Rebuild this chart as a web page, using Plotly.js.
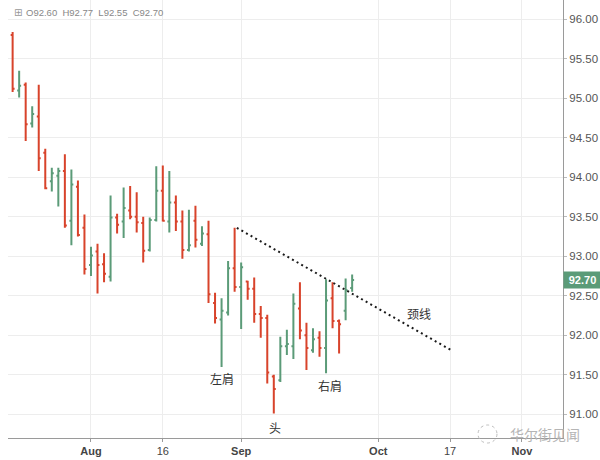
<!DOCTYPE html>
<html>
<head>
<meta charset="utf-8">
<script src="https://cdn.plot.ly/plotly-3.0.1.min.js"></script>
<style>html,body{margin:0;padding:0;background:#fff}#chart{width:600px;height:460px}</style>
</head>
<body>
<div id="chart"></div>
<script>
const dates = [
  '2017-07-14',
  '2017-07-17','2017-07-18','2017-07-19','2017-07-20','2017-07-21',
  '2017-07-24','2017-07-25','2017-07-26','2017-07-27','2017-07-28',
  '2017-07-31','2017-08-01','2017-08-02','2017-08-03','2017-08-04',
  '2017-08-07','2017-08-08','2017-08-09','2017-08-10','2017-08-11',
  '2017-08-14','2017-08-15','2017-08-16','2017-08-17','2017-08-18',
  '2017-08-21','2017-08-22','2017-08-23','2017-08-24','2017-08-25',
  '2017-08-28','2017-08-29','2017-08-30','2017-08-31','2017-09-01',
  '2017-09-04','2017-09-05','2017-09-06','2017-09-07','2017-09-08',
  '2017-09-11','2017-09-12','2017-09-13','2017-09-14','2017-09-15',
  '2017-09-18','2017-09-19','2017-09-20','2017-09-21','2017-09-22',
  '2017-09-25','2017-09-26'
];
const openP = [
  95.80,
  95.10,95.17,94.68,94.77,94.31,
  93.95,94.02,94.08,93.45,93.88,
  93.36,92.89,93.06,92.90,92.74,
  93.49,93.44,93.58,93.50,93.42,
  93.08,93.46,93.83,93.44,93.68,
  93.44,93.08,93.45,93.16,93.28,
  92.41,92.20,92.29,92.85,92.61,
  92.68,92.59,92.27,92.22,91.48,
  91.43,91.86,91.86,92.34,92.00,
  91.81,91.97,91.84,92.47,92.18,
  92.31,92.60
];
const highP = [
  95.84,
  95.35,95.20,94.90,95.17,94.36,
  94.12,94.12,94.29,94.10,93.96,
  93.53,93.12,93.16,93.04,93.77,
  93.54,93.87,93.89,93.81,93.50,
  93.49,94.14,94.15,94.08,93.77,
  93.58,93.59,93.64,93.38,93.45,
  92.54,92.47,92.94,93.36,92.92,
  92.69,92.73,92.37,92.26,91.50,
  91.98,92.07,92.53,92.67,92.16,
  92.09,92.05,92.71,92.67,92.20,
  92.72,92.77
];
const lowP = [
  95.08,
  95.01,94.46,94.63,94.08,93.85,
  93.82,93.63,93.36,93.14,93.25,
  92.77,92.75,92.53,92.67,92.68,
  93.29,93.23,93.47,93.30,92.92,
  93.06,93.44,93.44,93.30,93.32,
  92.97,93.06,93.11,93.13,92.41,
  92.15,91.60,92.25,92.55,92.08,
  92.45,92.16,91.97,91.39,91.01,
  91.41,91.75,91.70,91.95,91.56,
  91.78,91.73,91.52,92.09,91.77,
  92.19,92.55
];
const closeP = [
  95.12,
  95.16,94.67,94.80,94.24,93.86,
  94.05,94.08,93.39,93.91,93.27,
  92.84,93.01,92.89,92.78,93.49,
  93.40,93.61,93.50,93.43,93.07,
  93.46,93.83,93.45,93.68,93.44,
  93.08,93.14,93.21,93.29,92.52,
  92.22,92.31,92.85,92.61,92.86,
  92.59,92.27,92.22,91.53,91.32,
  91.86,91.89,92.40,92.06,91.84,
  91.95,91.84,92.44,92.18,92.14,
  92.57,92.70
];

const tickDates = ['2017-08-01','2017-08-16','2017-09-01','2017-10-02','2017-10-17','2017-11-01'];
const tickLabels = ['<b>Aug</b>','16','<b>Sep</b>','<b>Oct</b>','17','<b>Nov</b>'];

const necklineX = ['2017-08-31 08:00','2017-10-17 10:00'];
const necklineY = [93.36, 91.80];

const markLabels = ['左肩','头','右肩','颈线'];
const markX = ['2017-08-29','2017-09-08 05:00','2017-09-20 14:00','2017-10-10 05:00'];
const markY = [91.45, 90.83, 91.36, 92.28];

const RED = '#d8432b';
const GREEN = '#5b9b78';
const CJK = '"Noto Sans CJK SC", "Noto Sans", sans-serif';

const last = closeP.length - 1;
const f2 = v => v.toFixed(2);
const headerText = 'O' + f2(openP[last]) + '\u00a0\u00a0H' + f2(highP[last]) +
  '\u00a0\u00a0L' + f2(lowP[last]) + '\u00a0\u00a0C' + f2(closeP[last]);

const traces = [
  {
    type: 'ohlc',
    x: dates, open: openP, high: highP, low: lowP, close: closeP,
    increasing: {line: {color: GREEN, width: 2}},
    decreasing: {line: {color: RED, width: 2}},
    tickwidth: 0.3,
    hoverinfo: 'skip'
  },
  {
    type: 'scatter', mode: 'lines',
    x: necklineX, y: necklineY,
    line: {color: '#1a1a1a', width: 2, dash: '2px,3.3px'},
    hoverinfo: 'skip'
  }
];

const annotations = markLabels.map((t, i) => ({
  x: markX[i], y: markY[i], xref: 'x', yref: 'y', text: t, showarrow: false,
  font: {family: CJK, size: 12, color: '#333'}
}));

annotations.push({
  xref: 'paper', yref: 'paper', x: 4/555, y: 1 - 13/438, xanchor: 'left', yanchor: 'middle',
  text: '⊞', showarrow: false, font: {family: 'DejaVu Sans', size: 10, color: '#999'}
});
annotations.push({
  xref: 'paper', yref: 'paper', x: 16/555, y: 1 - 13/438, xanchor: 'left', yanchor: 'middle',
  text: headerText, showarrow: false, font: {family: '"Liberation Sans", Arial, sans-serif', size: 9.5, color: '#888'}
});
annotations.push({
  xref: 'paper', yref: 'y', x: 1, y: closeP[last], xanchor: 'left', yanchor: 'middle',
  text: '<b>' + f2(closeP[last]) + '</b>', showarrow: false, bgcolor: GREEN, borderpad: 2, width: 33,
  font: {family: '"Liberation Sans", Arial, sans-serif', size: 11, color: '#ffffff'}
});
annotations.push({
  xref: 'paper', yref: 'paper', x: (582 - 8)/555, y: (438 - 434)/438, xanchor: 'right', yanchor: 'middle',
  text: '华尔街见闻', showarrow: false, font: {family: CJK, size: 14, color: '#b5b5b5'}
});

const layout = {
  width: 600, height: 460,
  margin: {l: 8, r: 37, t: 0, b: 22},
  paper_bgcolor: '#ffffff', plot_bgcolor: '#ffffff',
  showlegend: false,
  hovermode: false,
  font: {family: '"Liberation Sans", Arial, sans-serif', color: '#555'},
  xaxis: {
    type: 'date',
    range: ['2017-07-13 07:00', '2017-11-09 07:00'],
    rangebreaks: [{bounds: ['sat', 'mon']}],
    rangeslider: {visible: false},
    tickmode: 'array', tickvals: tickDates, ticktext: tickLabels,
    showgrid: true, gridcolor: '#ededed', gridwidth: 1,
    showline: true, linecolor: '#9a9a9a', linewidth: 1,
    ticks: 'outside', ticklen: 3, tickcolor: '#9a9a9a',
    tickfont: {size: 11, color: '#444'},
    zeroline: false, fixedrange: true
  },
  yaxis: {
    side: 'right',
    range: [90.70, 96.244],
    tick0: 91, dtick: 0.5, tickformat: '.2f',
    showgrid: true, gridcolor: '#ededed', gridwidth: 1,
    showline: true, linecolor: '#9a9a9a', linewidth: 1,
    ticks: 'outside', ticklen: 3, tickcolor: '#bbbbbb',
    tickfont: {size: 11.5, color: '#555'},
    zeroline: false, fixedrange: true
  },
  annotations: annotations,
  shapes: [{
    type: 'circle', xref: 'paper', yref: 'paper',
    x0: (478 - 8)/555, x1: (497 - 8)/555, y0: (438 - 443)/438, y1: (438 - 425)/438,
    line: {color: '#bdbdbd', width: 1, dash: 'dot'}
  }]
};

Plotly.newPlot('chart', traces, layout, {displayModeBar: false, staticPlot: true});
</script>
</body>
</html>
